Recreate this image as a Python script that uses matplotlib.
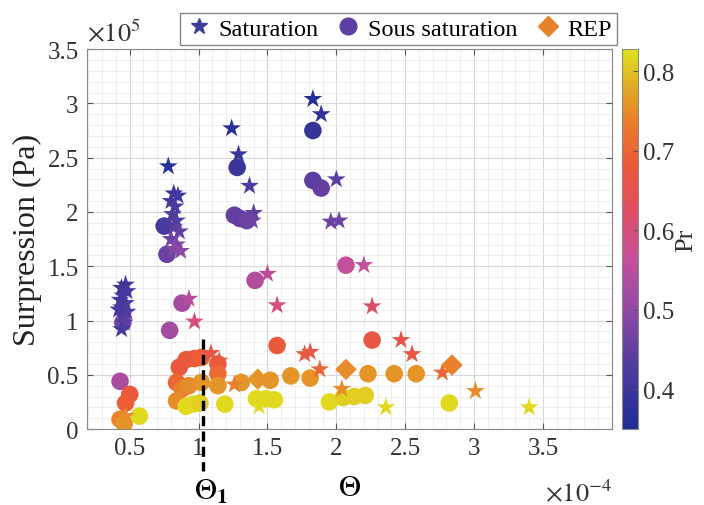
import numpy as np
import matplotlib
matplotlib.use("Agg")
from matplotlib import pyplot as plt
from matplotlib.colors import LinearSegmentedColormap
from matplotlib.lines import Line2D
from matplotlib.ticker import MultipleLocator

plt.rcParams['font.family'] = ['Liberation Serif', 'DejaVu Serif']
plt.rcParams['mathtext.fontset'] = 'stix'

# theta in 1e-4, surpression in 1e5 Pa, Pr
sat_theta = [0.78, 0.82, 0.85, 0.80, 0.83, 0.81, 0.84, 0.82, 0.86, 0.80, 0.84, 0.87, 0.82,
             1.24, 1.29, 1.37, 1.40, 1.39,
             1.83, 1.89, 2.00, 1.96, 2.02,
             0.47, 0.44, 0.48, 0.45, 0.43, 0.47, 0.44, 0.48, 0.45, 0.42, 0.46, 0.44,
             0.93, 0.97,
             1.50, 1.57, 2.20, 2.26, 2.47, 2.55, 2.77, 3.01, 3.40, 2.36,
             1.09, 1.15, 1.77, 1.81, 1.88, 2.04, 1.26, 1.44, 0.47]
sat_dp = [2.42, 2.17, 2.15, 2.10, 2.05, 1.98, 1.92, 1.86, 1.82, 1.75, 1.70, 1.64, 1.66,
          2.77, 2.53, 2.24, 1.99, 1.92,
          3.04, 2.90, 2.30, 1.91, 1.92,
          1.33, 1.30, 1.27, 1.23, 1.19, 1.16, 1.12, 1.08, 1.04, 1.10, 0.98, 0.92,
          1.20, 0.99,
          1.43, 1.14, 1.51, 1.13, 0.82, 0.69, 0.52, 0.35, 0.20, 0.20,
          0.70, 0.63, 0.69, 0.71, 0.55, 0.37, 0.41, 0.21, 0.12]
sat_pr = [0.37, 0.40, 0.41, 0.41, 0.42, 0.43, 0.43, 0.44, 0.45, 0.46, 0.48, 0.50, 0.49,
          0.37, 0.40, 0.43, 0.45, 0.46,
          0.36, 0.38, 0.44, 0.46, 0.46,
          0.40, 0.40, 0.41, 0.41, 0.41, 0.42, 0.42, 0.43, 0.43, 0.42, 0.44, 0.42,
          0.55, 0.60,
          0.55, 0.60, 0.56, 0.62, 0.66, 0.67, 0.70, 0.75, 0.82, 0.82,
          0.67, 0.68, 0.67, 0.67, 0.70, 0.75, 0.74, 0.82, 0.75]

sous_theta = [0.75, 0.77, 1.28, 1.26, 1.30, 1.35, 1.83, 1.83, 1.89,
              0.88, 0.79, 1.41, 2.07, 1.57, 2.26,
              0.45, 0.43, 0.50, 0.47, 0.43, 0.46, 0.57,
              0.86, 0.91, 0.97, 1.02, 0.84, 1.14, 1.14,
              0.88, 0.93, 1.02, 1.14, 0.84, 1.31, 1.52, 1.67, 1.81, 2.23, 2.42, 2.58,
              0.91, 0.96, 1.01, 1.19, 1.42, 1.49, 1.55, 1.95, 2.05, 2.13, 2.21, 2.82]
sous_dp = [1.87, 1.61, 2.41, 1.97, 1.94, 1.92, 2.75, 2.29, 2.22,
           1.16, 0.91, 1.37, 1.51, 0.77, 0.82,
           0.98, 0.44, 0.32, 0.24, 0.09, 0.05, 0.12,
           0.57, 0.64, 0.65, 0.66, 0.43, 0.60, 0.51,
           0.37, 0.40, 0.43, 0.40, 0.26, 0.43, 0.45, 0.49, 0.47, 0.51, 0.51, 0.51,
           0.21, 0.23, 0.24, 0.23, 0.28, 0.28, 0.27, 0.25, 0.29, 0.30, 0.31, 0.24]
sous_pr = [0.42, 0.46, 0.40, 0.45, 0.45, 0.46, 0.39, 0.44, 0.45,
           0.52, 0.52, 0.54, 0.56, 0.68, 0.67,
           0.47, 0.53, 0.68, 0.69, 0.74, 0.76, 0.82,
           0.68, 0.68, 0.68, 0.69, 0.70, 0.68, 0.71,
           0.74, 0.75, 0.76, 0.76, 0.75, 0.76, 0.76, 0.76, 0.76, 0.76, 0.76, 0.76,
           0.82, 0.82, 0.81, 0.82, 0.82, 0.82, 0.82, 0.82, 0.81, 0.81, 0.81, 0.82]

rep_theta = [1.43, 2.07, 2.84]
rep_dp = [0.46, 0.55, 0.59]
rep_pr = [0.76, 0.75, 0.74]

theta1 = 1.03

cmap = LinearSegmentedColormap.from_list('pr', [
    (0.0, '#1f2d96'), (0.15, '#4a3a9e'), (0.3, '#8a48a6'), (0.45, '#c8509a'),
    (0.6, '#e24f5a'), (0.7, '#ec5a3a'), (0.8, '#ea7a2c'), (0.9, '#e2a826'),
    (1.0, '#e0e21c')])
vmin, vmax = 0.35, 0.828

fig = plt.figure(figsize=(7.04, 5.06), dpi=100)
ax = fig.add_axes([0.1236, 0.150, 0.7454, 0.751])

sc = ax.scatter(sous_theta, sous_dp, c=sous_pr, cmap=cmap, vmin=vmin, vmax=vmax,
                marker='o', s=160, linewidths=0, zorder=3)
ax.scatter(sat_theta, sat_dp, c=sat_pr, cmap=cmap, vmin=vmin, vmax=vmax,
           marker='*', s=200, linewidths=0, zorder=3)
ax.scatter(rep_theta, rep_dp, c=rep_pr, cmap=cmap, vmin=vmin, vmax=vmax,
           marker='D', s=120, linewidths=0, zorder=3)

# dashed line at theta_1
ax.plot([theta1, theta1], [0.83, -0.39], color='black', ls=(0, (3, 1.6)), lw=2.4,
        clip_on=False, zorder=5)
ax.text(theta1 + 0.06, -0.57, r'$\Theta_\mathbf{1}$', fontsize=22, ha='center', va='center',
        clip_on=False)

ax.set_xlim(0.19, 4.0)
ax.set_ylim(0, 3.5)
ax.xaxis.set_minor_locator(MultipleLocator(0.1))
ax.yaxis.set_minor_locator(MultipleLocator(0.1))
ax.set_xticks([0.5, 1, 1.5, 2, 2.5, 3, 3.5])
ax.set_xticklabels(['0.5', '1', '1.5', '2', '2.5', '3', '3.5'])
ax.set_yticks([0, 0.5, 1, 1.5, 2, 2.5, 3, 3.5])
ax.set_yticklabels(['0', '0.5', '1', '1.5', '2', '2.5', '3', '3.5'])
ax.grid(True, which='major', color='#d8d8d8', lw=0.8)
ax.grid(True, which='minor', color='#ececec', lw=0.6)
ax.set_axisbelow(True)
ax.tick_params(which='both', direction='in', top=True, right=True, colors='#555555',
               labelcolor='#333333', labelsize=18)
ax.tick_params(which='minor', length=0)
ax.tick_params(which='major', length=4, pad=6)
for s in ax.spines.values():
    s.set_color('#888888')

ax.set_xlabel(r'$\Theta$', fontsize=22, labelpad=10)
ax.set_ylabel('Surpression (Pa)', fontsize=23, color='#222222', labelpad=4)
ax.text(0.0, 1.01, r'$\times10^5$', transform=ax.transAxes, fontsize=19,
        color='#333333', va='bottom', ha='left')
ax.text(1.0, -0.13, r'$\times10^{-4}$', transform=ax.transAxes, fontsize=19,
        color='#333333', va='top', ha='right')

cax = fig.add_axes([0.8835, 0.150, 0.0225, 0.751])
cb = fig.colorbar(sc, cax=cax)
cb.set_ticks([0.4, 0.5, 0.6, 0.7, 0.8])
cb.ax.tick_params(labelsize=18, direction='in', colors='#555555', labelcolor='#333333')
cb.outline.set_edgecolor('#888888')
cb.set_label('Pr', fontsize=19, color='#333333', labelpad=1)

handles = [Line2D([], [], marker='*', ls='', color='#3f3c9c', markersize=12),
           Line2D([], [], marker='o', ls='', color='#5d3fa3', markersize=12),
           Line2D([], [], marker='D', ls='', color='#e8822a', markersize=10)]
fig.legend(handles, ['Saturation', 'Sous saturation', 'REP'], loc='center',
           bbox_to_anchor=(0.566, 0.941), ncol=3, fontsize=17.5, frameon=True,
           fancybox=False, edgecolor='#666666', handletextpad=0.25, columnspacing=0.7,
           handlelength=1.1, borderpad=0.2)

fig.savefig('out.png', dpi=100)
